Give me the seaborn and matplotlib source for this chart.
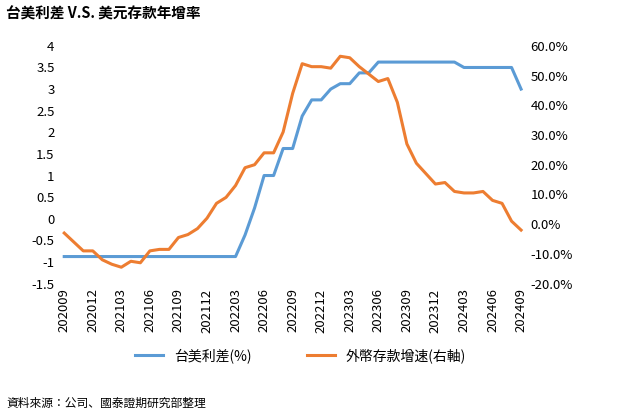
import matplotlib
matplotlib.use("Agg")
import matplotlib.pyplot as plt
import seaborn as sns
import pandas as pd
import numpy as np

plt.rcParams['font.family'] = ['Noto Sans CJK JP', 'DejaVu Sans']

months = pd.period_range('2020-09', '2024-09', freq='M').strftime('%Y%m').tolist()
spread = [-0.875]*19 + [-0.375, 0.25, 1.0, 1.0, 1.625, 1.625, 2.375, 2.75, 2.75, 3.0, 3.125, 3.125,
          3.375, 3.375] + [3.625]*9 + [3.5]*6 + [3.0]
fx_growth = [-3, -6, -9, -9, -12, -13.5, -14.5, -12.5, -13, -9, -8.5, -8.5, -4.5, -3.5, -1.5, 2, 7, 9,
             13, 19, 20, 24, 24, 31, 44, 54, 53, 53, 52.5, 56.5, 56, 53, 50.5, 48, 49, 41, 27, 20.5,
             17, 13.5, 14, 11, 10.5, 10.5, 11, 8, 7, 1, -2]
tick_labels = months[::3]

df = pd.DataFrame({'m': np.arange(len(months)), 'spread': spread, 'fx': fx_growth})

fig = plt.figure(figsize=(6.26, 4.17), dpi=100)
ax = fig.add_axes([0.095, 0.32, 0.745, 0.57])
ax2 = ax.twinx()
sns.lineplot(data=df, x='m', y='spread', ax=ax, color='#5B9BD5', lw=2.2, label='台美利差(%)', legend=False)
sns.lineplot(data=df, x='m', y='fx', ax=ax2, color='#ED7D31', lw=2.2, label='外幣存款增速(右軸)', legend=False)
ax.set_ylim(-1.5, 4); ax.set_yticks(np.arange(-1.5, 4.01, 0.5))
ax.set_yticklabels([f'{v:g}' for v in np.arange(-1.5, 4.01, 0.5)])
ax2.set_ylim(-20, 60); ax2.set_yticks(range(-20, 61, 10))
ax2.set_yticklabels([f'{v:.1f}%' for v in range(-20, 61, 10)])
ax.set_xlim(-0.5, len(months)-0.5)
ax.set_xticks(df['m'][::3]); ax.set_xticklabels(tick_labels, rotation=90)
for a in (ax, ax2):
    for s in a.spines.values(): s.set_visible(False)
    a.tick_params(length=0, labelsize=9.5)
    a.set_xlabel(''); a.set_ylabel('')
h1, l1 = ax.get_legend_handles_labels(); h2, l2 = ax2.get_legend_handles_labels()
fig.legend(h1+h2, l1+l2, loc='lower center', bbox_to_anchor=(0.48, 0.1), ncol=2, frameon=False,
           fontsize=10, columnspacing=4)
fig.text(0.01, 0.955, '台美利差 V.S. 美元存款年增率', fontsize=10.5, fontweight='bold')
fig.text(0.01, 0.025, '資料來源：公司、國泰證期研究部整理', fontsize=8.5)
fig.savefig('out.png', dpi=100)
